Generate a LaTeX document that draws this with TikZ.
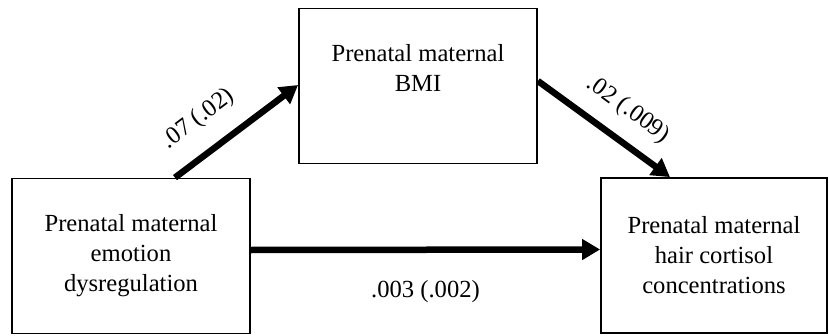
\documentclass[tikz,border=0pt]{standalone}
\usepackage{fontspec}
\setmainfont{Liberation Serif}
\usetikzlibrary{arrows.meta}
\begin{document}
\begin{tikzpicture}[x=1pt,y=1pt,
  box/.style={draw=black, line width=1.8pt, minimum width=238pt, minimum height=155pt,
    align=center, inner sep=0pt, font=\fontsize{24.6}{30}\selectfont},
  path/.style={line width=6.5pt, -{Triangle[length=18pt,width=20pt]}},
  lab/.style={font=\fontsize{24.6}{30}\selectfont}]
\useasboundingbox (0,0) rectangle (829,335);
\node[box] (l) at (131,79) {Prenatal maternal\\emotion\\dysregulation};
\node[box] (t) at (418,249) {Prenatal maternal\\BMI\\[6pt]};
\node[box, minimum width=226pt] (r) at (714,79.5) {Prenatal maternal\\hair cortisol\\concentrations};
\draw[path] ([xshift=44pt]l.north) -- ([yshift=1pt]t.west)
  node[lab, sloped, pos=0.35, above=15pt] {.07 (.02)};
\draw[path] ([yshift=5pt]t.east) -- ([xshift=-44pt]r.north)
  node[lab, sloped, pos=0.55, above=12pt] {.02 (.009)};
\draw[path] ([yshift=6pt]l.east) -- ([yshift=6pt]r.west)
  node[lab, midway, below=24pt] {.003 (.002)};
\end{tikzpicture}
\end{document}
